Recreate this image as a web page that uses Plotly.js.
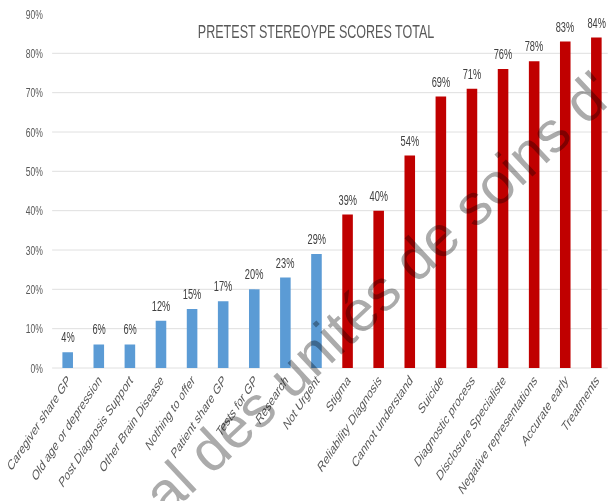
<!DOCTYPE html>
<html>
<head>
<meta charset="utf-8">
<script src="https://cdn.plot.ly/plotly-3.0.1.min.js"></script>
<style>
  html, body { margin: 0; padding: 0; background: #fff; overflow: hidden; width: 608px; height: 501px; position: relative; }
  /* the figure is laid out wide and then compressed horizontally into the frame */
  #chart { width: 921px; height: 501px; transform: scaleX(0.66); transform-origin: 0 0; }
  /* diagonal lettering printed over the figure */
  #stamp {
    position: absolute; left: 133px; top: 482px;
    font-family: 'Liberation Sans', Arial, sans-serif; font-size: 58px; line-height: 58px;
    color: #ababab; white-space: nowrap; pointer-events: none;
    transform: rotate(-43deg); transform-origin: 0 0;
    mix-blend-mode: multiply;
  }
</style>
</head>
<body>
<div id="chart"></div>
<div id="stamp"></div>
<script>
// Items scored below the 30% mark (blue) and above it (red)
const lowItems = ["Caregiver share GP", "Old age or depression", "Post Diagnosis Support",
  "Other Brain Disease", "Nothing to offer", "Patient share GP", "Tests for GP",
  "Research", "Not Urgent"];
const lowScores = [0.04, 0.06, 0.06, 0.12, 0.15, 0.17, 0.20, 0.23, 0.29];

const highItems = ["Stigma", "Reliability Diagnosis", "Cannot understand", "Suicide",
  "Diagnostic process", "Disclosure Specialiste", "Negative representations",
  "Accurate early", "Treatments"];
const highScores = [0.39, 0.40, 0.54, 0.69, 0.71, 0.76, 0.78, 0.83, 0.84];

const yTicks = [0, 0.1, 0.2, 0.3, 0.4, 0.5, 0.6, 0.7, 0.8, 0.9];
const yTickText = ["0%", "10%", "20%", "30%", "40%", "50%", "60%", "70%", "80%", "90%"];

const chartTitle = "PRETEST STEREOYPE SCORES TOTAL";
const watermark = "al des unités de soins d'";

const FONT = "'Liberation Sans', Arial, sans-serif";
const pct = v => Math.round(v * 100) + "%";

document.getElementById("stamp").textContent = watermark;

const traces = [
  { type: "bar", x: lowItems, y: lowScores, marker: { color: "#5B9BD5" }, hoverinfo: "x+y" },
  { type: "bar", x: highItems, y: highScores, marker: { color: "#C00000" }, hoverinfo: "x+y" }
];

// value labels above each bar
const annotations = [];
[[lowItems, lowScores], [highItems, highScores]].forEach(([cats, vals]) => {
  cats.forEach((c, i) => annotations.push({
    x: c, y: vals[i], xref: "x", yref: "y", text: pct(vals[i]),
    showarrow: false, xanchor: "center", yanchor: "bottom", yshift: 5,
    font: { family: FONT, size: 14, color: "#404040" }
  }));
});

const layout = {
  width: 921, height: 501,
  margin: { l: 79, r: 0, t: 14, b: 133 },
  paper_bgcolor: "#ffffff", plot_bgcolor: "#ffffff",
  showlegend: false,
  barmode: "overlay",
  bargap: 0.66,
  title: {
    text: chartTitle, x: 0.52, xanchor: "center", y: 1 - 31 / 501, yanchor: "middle",
    font: { family: FONT, size: 19, color: "#595959" }
  },
  xaxis: {
    type: "category",
    categoryorder: "array",
    categoryarray: lowItems.concat(highItems),
    range: [-0.5, 17.37],
    tickangle: -45,
    tickfont: { family: FONT, size: 14.5, color: "#595959" },
    showgrid: false, zeroline: false, showline: false, ticks: "",
    fixedrange: true
  },
  yaxis: {
    range: [0, 0.9],
    tickvals: yTicks, ticktext: yTickText,
    tickfont: { family: FONT, size: 13, color: "#595959" },
    showgrid: true, gridcolor: "#d9d9d9", gridwidth: 1,
    zeroline: true, zerolinecolor: "#d9d9d9", zerolinewidth: 1,
    showline: false, ticks: "", ticklabelstandoff: 13,
    fixedrange: true
  },
  annotations: annotations
};

Plotly.newPlot("chart", traces, layout, { displayModeBar: false, staticPlot: true });
</script>
</body>
</html>
